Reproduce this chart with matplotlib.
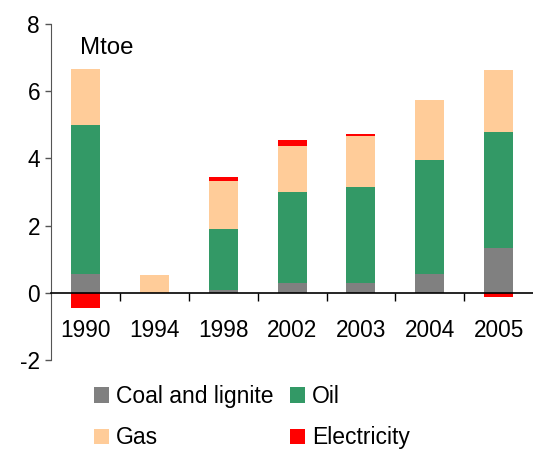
import numpy as np
import matplotlib
matplotlib.use('Agg')
import matplotlib.pyplot as plt

plt.rcParams['font.family'] = ['Liberation Sans', 'DejaVu Sans']
plt.rcParams['axes.unicode_minus'] = False

years = ['1990', '1994', '1998', '2002', '2003', '2004', '2005']
coal = [0.55, 0.0, 0.08, 0.28, 0.28, 0.55, 1.32]
oil = [4.43, 0.0, 1.83, 2.73, 2.88, 3.39, 3.48]
gas = [1.69, 0.52, 1.43, 1.37, 1.52, 1.81, 1.82]
electricity = [-0.46, 0.0, 0.12, 0.18, 0.06, 0.0, -0.13]

series = [('Coal and lignite', coal, '#808080'),
          ('Oil', oil, '#339966'),
          ('Gas', gas, '#FFCC99'),
          ('Electricity', electricity, '#FF0000')]

fig = plt.figure(figsize=(5.33, 4.51), dpi=100)
ax = fig.add_axes([0.096, 0.2018, 0.904, 0.745])

x = np.arange(len(years))
pos = np.zeros(len(years))
neg = np.zeros(len(years))
handles = {}
for name, vals, col in series:
    v = np.array(vals)
    bottom = np.where(v >= 0, pos, neg)
    handles[name] = ax.bar(x, v, width=0.42, bottom=bottom, color=col, label=name, zorder=1)
    pos = pos + np.clip(v, 0, None)
    neg = neg + np.clip(v, None, 0)

ax.set_xlim(-0.5, len(years) - 0.5)
ax.set_ylim(-2, 8)
ax.set_yticks([-2, 0, 2, 4, 6, 8])
ax.tick_params(axis='y', labelsize=16.3, length=4, width=1, color='#555555', pad=4)

ax.spines['top'].set_visible(False)
ax.spines['right'].set_visible(False)
ax.spines['left'].set_color('#555555')
ax.spines['bottom'].set_position(('data', 0))
ax.spines['bottom'].set_linewidth(1.2)

# ticks between categories, labels under centres
ax.set_xticks(np.arange(0.5, len(years) - 0.5, 1.0))
ax.set_xticklabels([])
ax.tick_params(axis='x', which='major', length=6, width=1, direction='out')
ax.set_xticks(x, minor=True)
ax.set_xticklabels(years, minor=True)
ax.tick_params(axis='x', which='minor', length=0, labelsize=16.3, pad=19)

ax.text(0.06, 0.93, 'Mtoe', transform=ax.transAxes, fontsize=17.3, va='center')

order = ['Coal and lignite', 'Gas', 'Oil', 'Electricity']
fig.legend([handles[n] for n in order], order, ncol=2, frameon=False,
           fontsize=16.5, loc='upper left', bbox_to_anchor=(0.176, 0.146),
           handlelength=0.65, handleheight=0.65, handletextpad=0.3,
           columnspacing=0.75, labelspacing=0.8, borderaxespad=0, borderpad=0)

fig.savefig('out.png', dpi=100)
